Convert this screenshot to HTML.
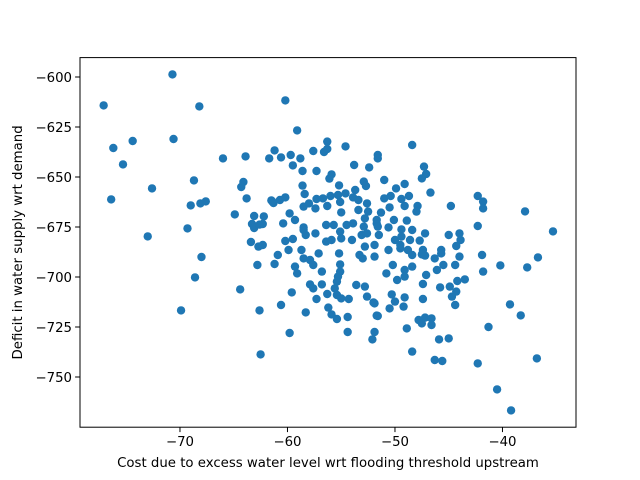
<!DOCTYPE html>
<html><head><meta charset="utf-8"><style>
html,body{margin:0;padding:0;background:#fff;}
svg{display:block;font-family:"DejaVu Sans","Liberation Sans",sans-serif;}
</style></head><body>
<svg id="chart" width="640" height="480" viewBox="0 0 640 480" xmlns="http://www.w3.org/2000/svg">
<rect x="0" y="0" width="640" height="480" fill="#fff"/>
<g id="points"></g>
<rect x="80" y="57.6" width="496" height="369.6" fill="none" stroke="#000" stroke-width="1"/>
<g id="xticks"></g>
<g id="yticks"></g>
<text x="328" y="467" font-size="13.3" text-anchor="middle">Cost due to excess water level wrt flooding threshold upstream</text>
<text transform="translate(22,242.4) rotate(-90)" font-size="13.3" text-anchor="middle">Deficit in water supply wrt demand</text>
</svg>
<script>
const xTicks = [-70, -60, -50, -40];
const yTicks = [-600, -625, -650, -675, -700, -725, -750];
const xVals = [-70.7,-77.1,-68.2,-76.2,-74.4,-70.6,-75.3,-66.0,-63.9,-61.2,-61.7,-68.7,-72.6,-76.4,-64.1,-64.3,-63.8,-69.0,-68.1,-67.6,-61.5,-61.3,-64.9,-63.1,-62.2,-63.3,-63.1,-62.6,-62.3,-73.0,-69.3,-63.4,-62.7,-62.3,-68.0,-60.9,-62.8,-61.2,-68.6,-64.4,-69.9,-62.6,-62.5,
-60.2,-59.1,-56.3,-54.6,-57.6,-56.6,-56.3,-59.7,-60.6,-58.8,-59.5,-58.6,-57.3,-53.8,-52.4,-51.6,-55.9,-56.1,-58.6,-55.2,-52.9,-52.7,-53.7,-58.4,-57.3,-56.7,-56.0,-55.3,-54.6,-53.9,-61.4,-60.7,-60.2,-58.5,-58.0,-57.4,-56.3,-55.1,-53.4,-52.6,-53.4,-52.5,-52.8,-55.0,-59.8,-59.3,-60.4,-58.5,-56.4,-55.7,-54.5,-53.9,-52.9,-51.7,
-58.5,-58.3,-57.4,-56.4,-55.9,-55.1,-55.0,-54.0,-53.1,-52.6,-52.8,-53.3,-53.0,-51.9,-51.9,-60.2,-59.5,-59.9,-58.7,-58.5,-57.9,-57.6,-57.1,-55.2,-59.3,-59.1,-56.8,-55.1,-55.1,-55.3,-55.4,-55.6,-57.9,-57.6,-56.8,-53.6,-52.8,-59.6,-57.3,-56.3,-55.4,-55.0,-54.3,-52.6,-52.0,-60.6,-56.2,-55.9,-55.4,-54.4,-58.3,-51.7,-59.8,-54.4,-51.9,-52.1,
-48.4,-51.6,-47.3,-47.1,-47.5,-51.0,-49.1,-49.9,-46.7,-51.0,-50.4,-49.4,-48.7,-49.1,-47.9,-48.0,-50.5,-51.3,-44.8,-42.3,-41.8,-41.8,-42.3,-51.7,-51.6,-50.6,-50.1,-48.9,-49.4,-48.4,-47.2,-51.5,-50.0,-49.4,-49.5,-48.6,-47.7,-45.0,-44.0,-43.9,-44.3,-45.7,-50.6,-47.4,
-49.5,-48.8,-48.4,-47.5,-47.2,-46.3,-45.7,-44.0,-41.9,-50.2,-49.1,-48.4,-50.8,-49.8,-49.1,-47.1,-46.1,-45.5,-44.4,-41.8,-47.4,-45.8,-44.9,-44.2,-43.5,-44.3,-50.3,-49.1,-47.4,-44.7,-44.4,-51.9,-50.0,-50.5,-49.2,-51.6,-47.8,-47.2,-46.6,-47.5,-46.6,-48.9,-45.9,-45.0,-48.4,-46.3,-45.6,-42.3,
-37.9,-35.3,-36.7,-40.2,-37.7,-39.3,-38.3,-41.3,-36.8,-40.5,-39.2];
const yVals = [-598.7,-614.2,-614.7,-635.5,-632,-631,-643.7,-640.7,-639.7,-636.7,-640.7,-651.7,-655.7,-661.2,-652.5,-655,-660.7,-664.2,-663.2,-662.2,-661.7,-663,-668.7,-669.5,-669.7,-673.5,-675.5,-673.8,-673.5,-679.7,-675.7,-682.5,-684.8,-684,-690,-689,-694,-693.5,-700.2,-706.2,-716.7,-716.7,-738.7,
-611.7,-626.7,-632.3,-634.7,-637,-637.5,-636,-639,-640.2,-640.7,-644.2,-647,-647,-644,-645.2,-639,-648.7,-650.8,-654.3,-654.2,-652.3,-654.5,-656.5,-658.5,-661,-660.7,-659.5,-659,-658.2,-660.2,-662.3,-661.5,-660.2,-664.8,-663.2,-665.7,-664.5,-662.5,-661.5,-663.2,-666.5,-667.3,-670.7,-667.7,-668.2,-671.5,-673.2,-675.2,-674,-674,-674,-673.2,-674.8,-673.2,
-676.5,-679,-678.2,-682.3,-681.5,-677.3,-680.7,-681.5,-679,-678.2,-684.8,-689,-690.7,-689.8,-684,-682,-681,-686.5,-686.5,-690.7,-691.5,-694,-688.2,-688.2,-694.8,-698.2,-697.3,-693.7,-697.3,-699.8,-702.3,-705.7,-703.7,-705.7,-703.7,-704,-704.8,-707.7,-711,-708.5,-709,-710.7,-711,-709.8,-712.7,-714,-715.3,-718.7,-721,-720,-717.7,-719.3,-728,-727.5,-727.5,-731.2,
-634,-640.7,-644.8,-648.5,-650.7,-651.5,-653.5,-655.7,-657.8,-660.7,-659.5,-661,-659.5,-664.5,-664.5,-667.3,-665.2,-667.8,-664.5,-659.5,-662.3,-665.7,-674.5,-671.5,-674.8,-675.2,-671.5,-671.8,-676.2,-676.5,-678.2,-679,-681.5,-679.8,-684,-681.5,-681.8,-679,-678.2,-681.5,-684.5,-686.5,-686.5,-686.5,
-685.7,-686.5,-689,-688.7,-689.3,-690.7,-688.2,-689.8,-689,-694,-696.5,-694.8,-698.2,-701.5,-699.8,-699,-696.5,-694,-694,-697.3,-703.5,-705.2,-704.8,-702,-701.2,-707.3,-708.7,-710.2,-711,-709.8,-714,-713.2,-712.3,-715.7,-714.8,-719.5,-721.5,-720.3,-720.7,-723.2,-724,-725.7,-731.2,-730.7,-737.3,-741.5,-742,-743.2,
-667.2,-677.2,-690.2,-694.2,-695.2,-713.7,-719.2,-725,-740.7,-756.2,-766.7];

const X0=80,X1=576,Y0=427.2,Y1=57.6;
const xMin=-79.3,xMax=-33.16,yMin=-775.1,yMax=-590.3;
function sx(v){return X0+(v-xMin)/(xMax-xMin)*(X1-X0);}
function sy(v){return Y0-(v-yMin)/(yMax-yMin)*(Y0-Y1);}
const NS="http://www.w3.org/2000/svg";
const pg=document.getElementById('points');
for(let i=0;i<xVals.length;i++){
  const c=document.createElementNS(NS,'circle');
  c.setAttribute('cx',sx(xVals[i]));c.setAttribute('cy',sy(yVals[i]));
  c.setAttribute('r',4.2);c.setAttribute('fill','#1f77b4');
  
  
  pg.appendChild(c);
}
const fmt=v=>String(v).replace('-','\u2212');
const xg=document.getElementById('xticks');
xTicks.forEach(t=>{
  const x=sx(t);
  const l=document.createElementNS(NS,'line');
  l.setAttribute('x1',x);l.setAttribute('x2',x);l.setAttribute('y1',Y0);l.setAttribute('y2',Y0+4.9);l.setAttribute('stroke','#000');
  
  
  xg.appendChild(l);
  const tx=document.createElementNS(NS,'text');
  tx.setAttribute('x',x);tx.setAttribute('y',Y0+19);tx.setAttribute('font-size','13.3');tx.setAttribute('text-anchor','middle');
  tx.textContent=fmt(t);
  
  
  xg.appendChild(tx);
});
const yg=document.getElementById('yticks');
yTicks.forEach(t=>{
  const y=sy(t);
  const l=document.createElementNS(NS,'line');
  l.setAttribute('x1',X0-4.9);l.setAttribute('x2',X0);l.setAttribute('y1',y);l.setAttribute('y2',y);l.setAttribute('stroke','#000');
  
  
  yg.appendChild(l);
  const tx=document.createElementNS(NS,'text');
  tx.setAttribute('x',X0-8);tx.setAttribute('y',y+5);tx.setAttribute('font-size','13.3');tx.setAttribute('text-anchor','end');
  tx.textContent=fmt(t);
  
  
  yg.appendChild(tx);
});
</script>
</body></html>
